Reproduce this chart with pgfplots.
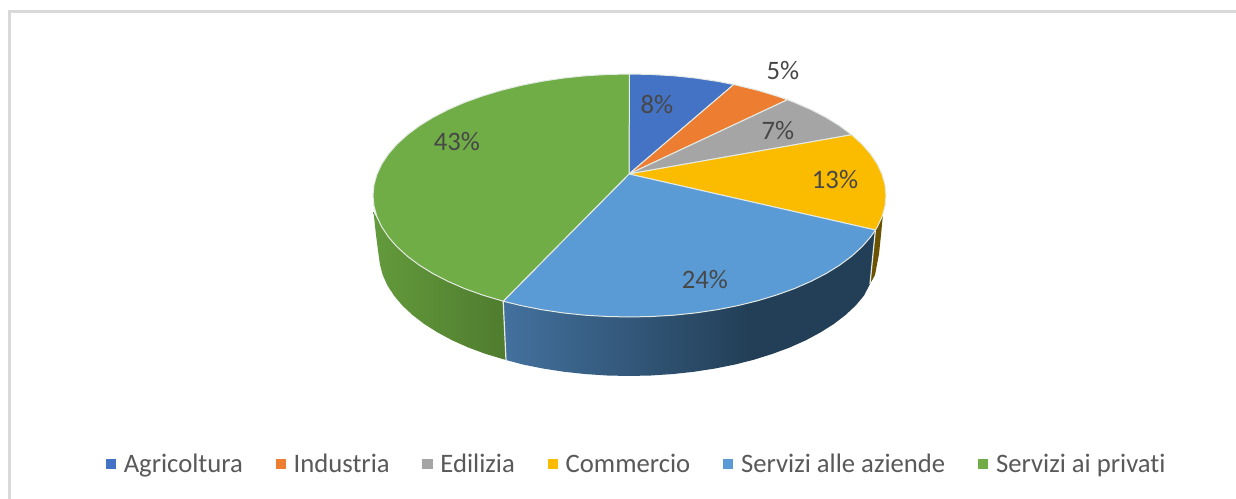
\documentclass[border=0pt]{standalone}
\usepackage{pgfplots}
\pgfplotsset{compat=1.18}
\usepackage{fontspec}
\setmainfont[Ligatures=CommonOff]{Carlito}
\definecolor{cA}{HTML}{4472C4}
\definecolor{cB}{HTML}{ED7D31}
\definecolor{cC}{HTML}{A5A5A5}
\definecolor{cD}{HTML}{FBBC00}
\definecolor{cE}{HTML}{5B9BD5}
\definecolor{cF}{HTML}{70AD47}
\definecolor{rim}{HTML}{E4EAE4}
\definecolor{gsa}{HTML}{639A3C}
\definecolor{gsb}{HTML}{4F7C2E}
\definecolor{bsa}{HTML}{43719E}
\definecolor{bsb}{HTML}{233F57}
\definecolor{brownside}{HTML}{6B5200}
\pgfdeclarehorizontalshading{greenside}{100bp}{color(0bp)=(gsa);color(25bp)=(gsa);color(75bp)=(gsb);color(100bp)=(gsb)}
\pgfdeclarehorizontalshading{blueside}{100bp}{color(0bp)=(bsa);color(25bp)=(bsa);color(58bp)=(bsb);color(100bp)=(bsb)}
\begin{document}
\begin{tikzpicture}
\begin{axis}[
  scale only axis, width=927pt, height=374.25pt,
  xmin=0, xmax=1236, ymin=0, ymax=499, y dir=reverse,
  hide axis, clip=true,
  legend columns=6,
  legend cell align=left,
  legend image code/.code={\fill[#1,draw=none] (0pt,-3.9pt) rectangle (7.8pt,3.9pt);\path[draw=none,fill=none] (0pt,0pt) -- (11.5pt,0pt);},
  legend style={draw=none, fill=none, at={(axis cs:637,464)}, anchor=center,
    font=\fontsize{20}{24}\selectfont, text=black!65,
    /tikz/every even column/.append style={column sep=22.6pt}},
]
% page and frame
\addplot[forget plot, fill=white, draw=none] coordinates {(0,0)(1236,0)(1236,499)(0,499)} -- cycle;
\addplot[forget plot, draw=black!15, line width=2.2pt] coordinates {(9.5,499)(9.5,11.5)(1236,11.5)};
% sides
\addplot[forget plot, shading=greenside, draw=none] coordinates {(373.5,212)(381.7,226.9)(388.5,237.1)(397,246.8)(407.4,256.25)(419.4,265.2)(433,273.6)(448.1,281.4)(464.6,288.6)(482.4,295)(503.2,301.2)(506,360)(485.6,353.9)(468.3,347.5)(452.2,340.3)(437.5,332.4)(424.2,324)(412.5,315)(402.4,305.6)(394.1,295.7)(387.5,285.6)(382.8,275.2)(379.95,264.6)(378.5,254)(376,235)} -- cycle;
\addplot[forget plot, shading=blueside, draw=none] coordinates {(503.2,301.2)(521.1,305.6)(541.8,309.7)(563.1,312.9)(585,315.2)(607.1,316.5)(629.5,317)(651.9,316.5)(674,315.2)(695.9,312.9)(717.2,309.7)(737.9,305.6)(757.75,300.7)(776.6,295)(794.4,288.6)(810.9,281.4)(826,273.6)(839.6,265.2)(851.6,256.25)(862,246.8)(870.5,237.1)(875.4,230)(870,284)(863.9,295.7)(855.6,305.6)(845.5,315)(833.8,324)(820.5,332.4)(805.8,340.3)(789.7,347.5)(772.4,353.9)(754,359.7)(734.7,364.6)(714.5,368.6)(693.7,371.8)(672.4,374.1)(650.8,375.5)(629,376)(607.2,375.5)(585.6,374.1)(564.3,371.8)(543.5,368.6)(523.3,364.6)(506,360)} -- cycle;
\addplot[forget plot, fill=brownside, draw=none] coordinates {(875.4,230)(879,224)(883,214)(881,235)(879,254)(875,275)(870,284)} -- cycle;
\addplot[forget plot, draw=rim, line width=0.9pt] coordinates {(503.2,301.2)(506,360)};
\addplot[forget plot, draw=rim, line width=0.9pt] coordinates {(875.4,230)(870,284)};
% top face
\addplot[fill=cA, draw=rim, line width=0.75pt] coordinates {(629,174)(629.5,74)(651.9,74.5)(674,75.8)(695.9,78.1)(717.2,81.3)(733.8,84.5)} -- cycle;
\addlegendentry{Agricoltura}
\addplot[fill=cB, draw=rim, line width=0.75pt] coordinates {(629,174)(733.8,84.5)(757.75,90.3)(776.6,96)(787.4,99.75)} -- cycle;
\addlegendentry{Industria}
\addplot[fill=cC, draw=rim, line width=0.75pt] coordinates {(629,174)(787.4,99.75)(794.4,102.4)(810.9,109.6)(826,117.4)(839.6,125.8)(851.6,134.75)} -- cycle;
\addlegendentry{Edilizia}
\addplot[fill=cD, draw=rim, line width=0.75pt] coordinates {(629,174)(851.6,134.75)(862,144.2)(870.5,153.9)(877.3,164.1)(882.1,174.4)(885,184.9)(886,195.5)(885,206.1)(882.1,216.6)(877.3,226.9)(875.4,230)} -- cycle;
\addlegendentry{Commercio}
\addplot[fill=cE, draw=rim, line width=0.75pt] coordinates {(629,174)(875.4,230)(870.5,237.1)(862,246.8)(851.6,256.25)(839.6,265.2)(826,273.6)(810.9,281.4)(794.4,288.6)(776.6,295)(757.75,300.7)(737.9,305.6)(717.2,309.7)(695.9,312.9)(674,315.2)(651.9,316.5)(629.5,317)(607.1,316.5)(585,315.2)(563.1,312.9)(541.8,309.7)(521.1,305.6)(503.2,301.2)} -- cycle;
\addlegendentry{Servizi alle aziende}
\addplot[fill=cF, draw=rim, line width=0.75pt] coordinates {(629,174)(503.2,301.2)(482.4,295)(464.6,288.6)(448.1,281.4)(433,273.6)(419.4,265.2)(407.4,256.25)(397,246.8)(388.5,237.1)(381.7,226.9)(376.9,216.6)(374,206.1)(373,195.5)(374,184.9)(376.9,174.4)(381.7,164.1)(388.5,153.9)(397,144.2)(407.4,134.75)(419.4,125.8)(433,117.4)(448.1,109.6)(464.6,102.4)(482.4,96)(501.25,90.3)(521.1,85.4)(541.8,81.3)(563.1,78.1)(585,75.8)(607.1,74.5)(629.5,74)} -- cycle;
\addlegendentry{Servizi ai privati}
% labels
\begin{scope}[every node/.style={font=\fontsize{20}{24}\selectfont, text=black!72}]
\node at (axis cs:657,105) {8\%};
\node at (axis cs:783,71) {5\%};
\node at (axis cs:778,131) {7\%};
\node at (axis cs:835,180) {13\%};
\node at (axis cs:705,280) {24\%};
\node at (axis cs:457,142) {43\%};
\end{scope}
\end{axis}
\end{tikzpicture}
\end{document}
